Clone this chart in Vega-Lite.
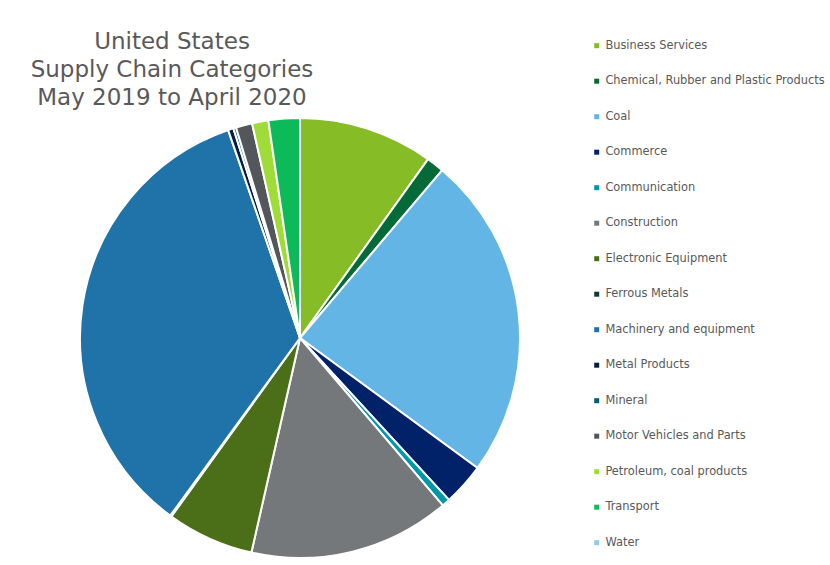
{
  "$schema": "https://vega.github.io/schema/vega-lite/v6.json",
  "width": 440,
  "height": 440,
  "autosize": {"type": "none"},
  "padding": {"left": 80, "top": 118, "right": 310, "bottom": 7},
  "background": "white",
  "title": {
    "text": ["United States", "Supply Chain Categories", "May 2019 to April 2020"],
    "anchor": "start",
    "align": "center",
    "frame": "group",
    "baseline": "top",
    "dx": 92,
    "fontSize": 23,
    "font": "DejaVu Sans",
    "fontWeight": "normal",
    "color": "#595959",
    "lineHeight": 28,
    "offset": -70
  },
  "data": {
    "values": [
      {"category": "Business Services", "share": 9.9, "idx": 1},
      {"category": "Chemical, Rubber and Plastic Products", "share": 1.3, "idx": 2},
      {"category": "Coal", "share": 23.9, "idx": 3},
      {"category": "Commerce", "share": 3.1, "idx": 4},
      {"category": "Communication", "share": 0.6, "idx": 5},
      {"category": "Construction", "share": 14.8, "idx": 6},
      {"category": "Electronic Equipment", "share": 6.4, "idx": 7},
      {"category": "Ferrous Metals", "share": 0.1, "idx": 8},
      {"category": "Machinery and equipment", "share": 34.7, "idx": 9},
      {"category": "Metal Products", "share": 0.4, "idx": 10},
      {"category": "Mineral", "share": 0.2, "idx": 11},
      {"category": "Motor Vehicles and Parts", "share": 1.2, "idx": 12},
      {"category": "Petroleum, coal products", "share": 1.2, "idx": 13},
      {"category": "Transport", "share": 2.3, "idx": 14},
      {"category": "Water", "share": 0, "idx": 15}
    ]
  },
  "mark": {"type": "arc", "stroke": "white", "strokeWidth": 2},
  "encoding": {
    "theta": {"field": "share", "type": "quantitative", "stack": true},
    "order": {"field": "idx", "type": "quantitative"},
    "color": {
      "field": "category",
      "type": "nominal",
      "sort": null,
      "scale": {
        "domain": ["Business Services", "Chemical, Rubber and Plastic Products", "Coal", "Commerce", "Communication", "Construction", "Electronic Equipment", "Ferrous Metals", "Machinery and equipment", "Metal Products", "Mineral", "Motor Vehicles and Parts", "Petroleum, coal products", "Transport", "Water"],
        "range": ["#86bc25", "#046a38", "#62b5e5", "#012169", "#0097a9", "#75787b", "#4b6f18", "#0d3d2e", "#1f73a8", "#041e42", "#005f66", "#53565a", "#a0dc37", "#0dba5a", "#8ecbf0"]
      },
      "legend": {
        "title": null,
        "orient": "none",
        "legendX": 511,
        "legendY": -78,
        "symbolType": "square",
        "symbolSize": 25,
        "symbolStrokeWidth": 0,
        "labelFontSize": 11.4,
        "labelFont": "DejaVu Sans",
        "labelColor": "#595959",
        "labelOffset": 3,
        "labelLimit": 320,
        "rowPadding": 22.5
      }
    }
  },
  "config": {"view": {"stroke": null}}
}
